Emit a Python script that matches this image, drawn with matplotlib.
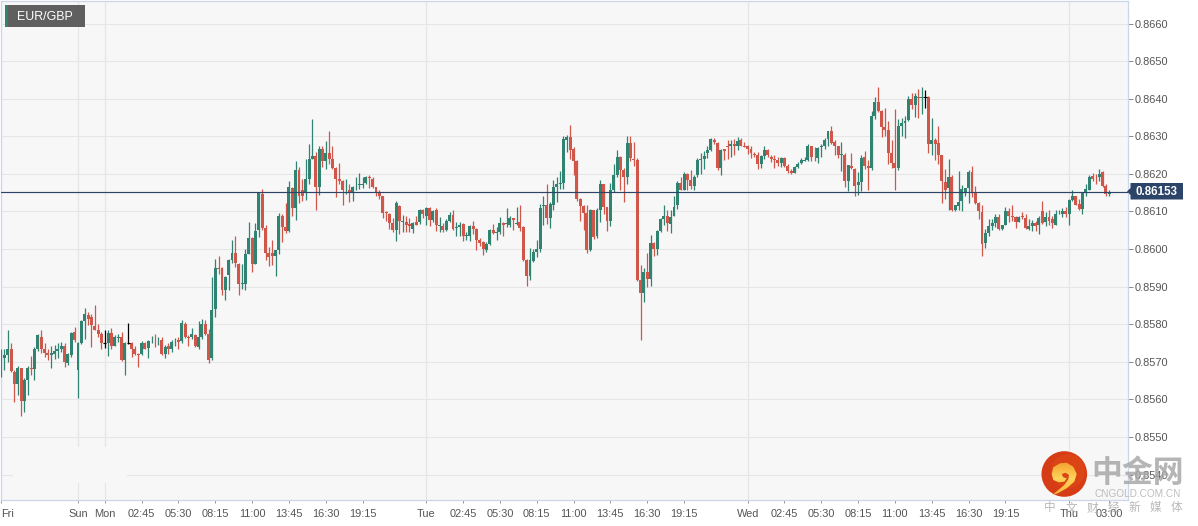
"""
EUR/GBP 15 minute candles with the last price marker and the site watermark.
Writes out.png.
"""

import matplotlib
matplotlib.use("Agg")
import matplotlib.pyplot as plt
from matplotlib.patches import Circle, Polygon, Rectangle
import numpy as np

W, H = 1198, 526

# prices in pips (0.8567.3 -> 8567.3)
opens = [
    8567.3, 8570.9, 8571.7, 8573.3, 8567.3, 8564, 8568.5, 8559.6, 8565.1, 8568.5,
    8568, 8573.3, 8576.6, 8573.5, 8572.4, 8571.7, 8572.2, 8572.9, 8573.5, 8574.2,
    8569.7, 8571.8, 8578, 8567.8, 8574.9, 8580.8, 8582.6, 8581.9, 8579.6, 8578.6,
    8577.3, 8575.1, 8574.9, 8577.8, 8574.3, 8576.4, 8576.6, 8570.4, 8575.1, 8574.9,
    8573.5, 8572.2, 8572, 8574.9, 8573.7, 8575.7, 8575.9, 8575.7, 8575.9, 8572,
    8574.2, 8573.4, 8575.7, 8575.9, 8575.5, 8580.2, 8576.6, 8576.5, 8577.1, 8574,
    8576.5, 8580, 8577.3, 8570.9, 8584, 8595, 8595, 8589, 8593, 8597,
    8599, 8596.1, 8590.6, 8590.6, 8598.8, 8603, 8596.1, 8605, 8614.7, 8605.7,
    8599, 8599, 8598.1, 8599.8, 8608.8, 8605.8, 8604.8, 8616.3, 8611, 8621,
    8615.6, 8614.9, 8618.7, 8624, 8624.7, 8616.6, 8626.6, 8623.5, 8625.6, 8624,
    8621.6, 8618.7, 8618, 8618, 8615.6, 8614.9, 8616.7, 8617, 8617.1, 8617.6,
    8619.3, 8618.7, 8616.5, 8614.9, 8614, 8609.8, 8609.4, 8606.9, 8605.1, 8611.4,
    8607.3, 8607.2, 8606.6, 8605.4, 8607.2, 8607.2, 8610.4, 8608.9, 8611, 8607.8,
    8610.3, 8606.1, 8606.1, 8605, 8607.4, 8609.1, 8605.7, 8606, 8606.7, 8603.6,
    8603.6, 8606.1, 8605.4, 8602.3, 8601.9, 8599.8, 8601.4, 8605.1, 8604.4, 8604.5,
    8606.9, 8606.6, 8606.3, 8608.2, 8606.8, 8607.2, 8605.8, 8597.2, 8592.9, 8596.8,
    8599.2, 8600.1, 8611.4, 8611.6, 8608.3, 8611.6, 8616.5, 8617.4, 8617.6, 8629,
    8629.9, 8626.6, 8623.5, 8613.4, 8611.4, 8609.6, 8599.8, 8610.3, 8603.4, 8610.3,
    8617.2, 8611.2, 8607.6, 8615.8, 8619.6, 8624.6, 8621.1, 8619.3, 8628.2, 8624,
    8623.7, 8591.9, 8588.4, 8593.9, 8592.1, 8601.7, 8599.9, 8604.8, 8608.1, 8608.8,
    8606.7, 8608.9, 8611.6, 8617.5, 8615.8, 8620, 8618.5, 8616.7, 8619.6, 8623.8,
    8624, 8625.5, 8626.4, 8629, 8628.2, 8621.5, 8626.6, 8627.4, 8627.3, 8628,
    8627.3, 8629, 8627.4, 8627.3, 8626.6, 8625.2, 8625.1, 8622.7, 8624.8, 8626.4,
    8624.4, 8623.9, 8623.8, 8622.9, 8624.2, 8622, 8620.9, 8620.3, 8621.9, 8622.8,
    8623.5, 8623.7, 8627.4, 8624.3, 8624.2, 8627.1, 8627.4, 8629.2, 8631.5, 8628.4,
    8627.3, 8625, 8625.1, 8618.2, 8622, 8621.3, 8617.1, 8617.8, 8624.6, 8622,
    8621.5, 8635.3, 8639, 8636.6, 8632.6, 8631.7, 8625.6, 8622.8, 8621.5, 8632.7,
    8633.5, 8634.3, 8639.9, 8638.3, 8640.5, 8640.3, 8640.5, 8640.5, 8628, 8629,
    8628.1, 8624.9, 8617.8, 8616.3, 8619.3, 8610.3, 8611.4, 8612.7, 8615, 8616.3,
    8620.4, 8614.9, 8612.3, 8609.8, 8601.6, 8604.2, 8606.1, 8607, 8608.5, 8605.4,
    8606.5, 8610.1, 8608.9, 8608.5, 8607.3, 8608.7, 8608.3, 8605.4, 8606.1, 8607,
    8606.3, 8610.1, 8607.2, 8608.5, 8608.1, 8606.5, 8609.5, 8609.4, 8610.1, 8609.4,
    8613.1, 8614.1, 8611.9, 8610.7, 8615.1, 8615.8, 8619.4, 8619, 8619.2, 8620.6, 8616.9, 8614.7,
]
highs = [
    8573.5, 8573.5, 8578.4, 8574.9, 8567.8, 8568.8, 8568.5, 8565.6, 8568.8, 8571.5,
    8574, 8577.3, 8578.6, 8574.9, 8573.5, 8574.3, 8574.4, 8574.9, 8575.3, 8574.9,
    8572.4, 8578, 8579.3, 8575.3, 8581.2, 8584.4, 8583.3, 8582.8, 8585.2, 8580.2,
    8578, 8578.6, 8578.4, 8579.1, 8577.1, 8577.5, 8578, 8575.3, 8580.4, 8575.3,
    8574.2, 8572.4, 8575.6, 8575.3, 8575.9, 8576.8, 8577.3, 8576.6, 8576.5, 8574.4,
    8574.9, 8575.8, 8576.4, 8576.5, 8581.1, 8580.6, 8577.1, 8579.1, 8577.5, 8580.9,
    8581.5, 8581.1, 8578.8, 8592.6, 8597.4, 8598.1, 8595.2, 8592.8, 8597.3, 8602.5,
    8603.5, 8596.3, 8596, 8600.1, 8607.2, 8603.2, 8607, 8615.1, 8616, 8606.3,
    8600.5, 8602.5, 8599.8, 8609.6, 8609.2, 8612.3, 8618, 8616.4, 8623.4, 8621.8,
    8618.7, 8624, 8628, 8634.6, 8625.8, 8627.5, 8627.3, 8628.7, 8631.5, 8627.3,
    8621.9, 8622.9, 8618.4, 8618.7, 8617.2, 8616.8, 8619.3, 8620.3, 8619.3, 8619.4,
    8619.6, 8619.3, 8616.6, 8615.6, 8614.2, 8610, 8609.5, 8608.3, 8612.9, 8611.6,
    8609.1, 8608.8, 8608.3, 8607.2, 8608.7, 8610.7, 8610.7, 8611.3, 8611.3, 8610.3,
    8611, 8608.5, 8606.9, 8608.1, 8609.8, 8610.3, 8607.2, 8607.2, 8606.9, 8604.5,
    8606.3, 8607.4, 8605.7, 8603, 8602.1, 8601.9, 8605.4, 8606.7, 8605.8, 8608.5,
    8607.2, 8611, 8608.7, 8608.3, 8611.3, 8611.8, 8606.1, 8597.3, 8600.4, 8600.1,
    8602.5, 8612, 8614.2, 8617.2, 8612.5, 8618.4, 8619.3, 8620.7, 8630.2, 8630.4,
    8633.1, 8627.1, 8623.6, 8613.5, 8611.8, 8611.6, 8610.7, 8610.5, 8611, 8618.4,
    8617.3, 8611.3, 8617.5, 8622.5, 8626.4, 8624.7, 8621.6, 8630.2, 8630.2, 8628.6,
    8624.2, 8595.8, 8595, 8598.9, 8603.8, 8601.9, 8605, 8608.3, 8611.8, 8610.5,
    8610.4, 8614.1, 8618, 8619.1, 8620.4, 8620.2, 8621.1, 8619.8, 8624.2, 8625.5,
    8626, 8627.5, 8629.6, 8629.6, 8628.6, 8626.6, 8626.7, 8628.9, 8629, 8629.3,
    8629.9, 8629.6, 8628.6, 8627.8, 8627.3, 8625.8, 8625.9, 8624.9, 8627.3, 8626.6,
    8625.1, 8625.1, 8624.6, 8624.4, 8624.6, 8622.5, 8621.3, 8622.2, 8623.1, 8624.2,
    8624.4, 8628, 8627.5, 8627.1, 8627.1, 8628, 8629.6, 8631.5, 8632.8, 8628.9,
    8627.5, 8628.6, 8625.5, 8622.4, 8625.6, 8621.6, 8620.4, 8625.1, 8626.2, 8623.7,
    8636.6, 8640.5, 8643.2, 8637, 8637.5, 8634.2, 8628.9, 8637.3, 8634.6, 8634.8,
    8635.5, 8640.8, 8641.5, 8641.4, 8642.6, 8643.2, 8642.3, 8640.6, 8634.9, 8629.6,
    8632.8, 8624.9, 8621.3, 8624, 8619.6, 8611.8, 8620.9, 8617.1, 8616.3, 8621.1,
    8622, 8616.7, 8612.5, 8611.6, 8605.4, 8607.9, 8608.1, 8609.2, 8609.2, 8606.5,
    8611.2, 8611, 8611.6, 8608.9, 8608.9, 8609.8, 8609.2, 8608.1, 8607.8, 8607.6,
    8608.7, 8612.7, 8609.8, 8610.3, 8608.7, 8610.4, 8610.4, 8611, 8611.2, 8613.4,
    8615.8, 8614.2, 8613.4, 8615.1, 8617.3, 8619.6, 8620.3, 8620, 8621.3, 8620.9, 8617.3, 8615.8,
]
lows = [
    8566, 8567.8, 8570, 8567.3, 8559.4, 8561.2, 8555.7, 8556.7, 8561.2, 8566.5,
    8565.3, 8572.9, 8572.4, 8571.3, 8570.6, 8568.4, 8570.7, 8570.9, 8572.7, 8568.7,
    8569.1, 8571.3, 8575.3, 8560.4, 8574.7, 8576.2, 8579.7, 8574, 8578.4, 8576.6,
    8573.3, 8573.8, 8571.5, 8573.5, 8574.2, 8575.3, 8570.2, 8566.6, 8574.7, 8571.3,
    8571.8, 8568.7, 8571.8, 8573.4, 8570.9, 8574.9, 8574, 8574.4, 8571.8, 8571.1,
    8572, 8572.7, 8574.2, 8573.3, 8575.1, 8576.4, 8574.2, 8576, 8574, 8573.4,
    8576.2, 8577.1, 8569.7, 8570.6, 8582, 8593.5, 8587.9, 8586.5, 8589, 8596.4,
    8595.2, 8587.9, 8589.5, 8589.2, 8598.7, 8593.9, 8596, 8603.2, 8605.2, 8597,
    8595.5, 8595.7, 8592.8, 8598.6, 8601.9, 8604.2, 8604.5, 8608.8, 8607.8, 8612.3,
    8612.7, 8613.1, 8617.3, 8623.9, 8610.5, 8614.4, 8621.8, 8621.3, 8622.7, 8621.3,
    8613.8, 8617.2, 8611.8, 8614.7, 8612.5, 8612.7, 8615.6, 8616, 8616.2, 8617.3,
    8616.3, 8616.2, 8614.2, 8613.4, 8608.2, 8607.4, 8605.4, 8604.5, 8602.1, 8604.1,
    8604.5, 8604.5, 8604.5, 8604.2, 8606.3, 8606.7, 8608.3, 8606.3, 8606.1, 8607.2,
    8604.8, 8604.5, 8604.5, 8604.8, 8607.2, 8605.1, 8603.4, 8603.6, 8602.1, 8602.5,
    8602.1, 8603.9, 8599.8, 8600.8, 8598.5, 8599.2, 8601, 8604.1, 8602.3, 8604.1,
    8603.4, 8605.8, 8605.8, 8605.2, 8606.5, 8604.8, 8596.8, 8590.1, 8591.9, 8596.5,
    8597.9, 8599.2, 8606.3, 8606.7, 8605.6, 8610.4, 8612.5, 8616, 8616, 8625.8,
    8624, 8619.8, 8612.9, 8607.4, 8605.2, 8598.9, 8599.5, 8602.6, 8603, 8607.2,
    8609.2, 8604.8, 8606.1, 8615.1, 8619.3, 8615.6, 8612.5, 8617.3, 8623.5, 8622.2,
    8591.4, 8575.9, 8585.9, 8589.9, 8590.1, 8598.1, 8598.5, 8604.5, 8606.3, 8604.8,
    8604.2, 8608.7, 8610.7, 8615.6, 8615.6, 8615.8, 8616, 8615.8, 8619.3, 8620,
    8621.3, 8624.2, 8626.2, 8628, 8621.1, 8619.7, 8623.7, 8624, 8624.6, 8625.1,
    8626.4, 8627.3, 8627.1, 8625.3, 8624.2, 8624.6, 8621.2, 8621.6, 8624, 8624.4,
    8623.1, 8621.6, 8622.2, 8621.8, 8621.9, 8620.3, 8620, 8620.2, 8621.6, 8622.7,
    8623.3, 8623.5, 8623.5, 8623.5, 8622.8, 8624.6, 8626.6, 8627.5, 8628, 8624.9,
    8624.2, 8620.9, 8616.5, 8615.4, 8621.3, 8614.1, 8614.5, 8615.4, 8621.3, 8615.8,
    8621.1, 8634.6, 8636.4, 8629.9, 8630.2, 8622.7, 8621.6, 8615.8, 8621.1, 8630.2,
    8629.6, 8634, 8637.3, 8635.2, 8634.8, 8635.9, 8637.5, 8625.5, 8624.9, 8623.7,
    8622.7, 8612.3, 8613.4, 8610.3, 8610.1, 8610.1, 8610.3, 8610.1, 8614.1, 8612.2,
    8613.8, 8612, 8608.1, 8598.1, 8600.4, 8603.6, 8605, 8605.8, 8605, 8605.2,
    8606.3, 8607.2, 8607.6, 8605.7, 8607.2, 8608.1, 8605.4, 8605.1, 8604.8, 8604.8,
    8604.1, 8606.7, 8606.1, 8606.5, 8605.7, 8606.3, 8609.2, 8608.5, 8608.5, 8606.5,
    8612.9, 8611.6, 8610.4, 8609.2, 8614.2, 8615.6, 8618.2, 8617.3, 8618, 8616.6, 8614.2, 8614.2,
]
closes = [
    8570.9, 8571.7, 8573.3, 8567.5, 8564, 8568.5, 8559.6, 8565.1, 8568.5, 8568,
    8573.3, 8577.1, 8573.5, 8572.4, 8571.7, 8572.4, 8572.9, 8573.5, 8574.2, 8570,
    8572, 8577.8, 8575.8, 8575.1, 8580.8, 8582.8, 8581.5, 8579.7, 8578.6, 8577.3,
    8575.1, 8575.1, 8577.8, 8574.2, 8576.5, 8576.6, 8570.6, 8575.1, 8575.1, 8573.5,
    8572, 8571.9, 8574.9, 8573.5, 8575.6, 8575.9, 8575.7, 8575.9, 8572, 8574,
    8573.4, 8575.3, 8575.9, 8575.2, 8580.4, 8576.6, 8576.4, 8577.5, 8574.2, 8576.5,
    8580, 8577.3, 8570.4, 8583.9, 8595, 8594.7, 8589, 8592.6, 8597, 8599,
    8596.3, 8590.6, 8591, 8598.8, 8603, 8596.1, 8604.8, 8615, 8605.7, 8599,
    8598, 8598.1, 8599.8, 8608.8, 8605.8, 8604.8, 8616.5, 8611, 8621, 8614.2,
    8614, 8618.7, 8624, 8624.7, 8616.5, 8626.6, 8623.5, 8625.6, 8624, 8621.6,
    8618.7, 8618, 8615.6, 8618.2, 8614.9, 8616.5, 8616.9, 8617.2, 8617.3, 8619.1,
    8618.8, 8616.5, 8615, 8614, 8609.6, 8609.6, 8606.9, 8605.1, 8612.2, 8607.6,
    8607.5, 8606.5, 8606.1, 8606.9, 8606.5, 8610.3, 8609.2, 8611, 8607.8, 8610.1,
    8606.3, 8606.3, 8605.2, 8607.4, 8609.1, 8605.4, 8606, 8606.3, 8603.6, 8603.8,
    8606.1, 8605.4, 8602.3, 8601.7, 8600.1, 8601.4, 8605.1, 8604.3, 8604.6, 8606.9,
    8606.3, 8607, 8608.3, 8607.8, 8607, 8605.7, 8597, 8592.8, 8597.2, 8599.2,
    8600.1, 8611, 8611.6, 8608.3, 8611.9, 8616.5, 8617.3, 8617.6, 8629.3, 8629.9,
    8626.4, 8623.5, 8613.4, 8611.4, 8609.6, 8599.8, 8610.3, 8603.2, 8610.3, 8617.2,
    8611.2, 8607.6, 8615.8, 8619.6, 8624.6, 8621.1, 8619.3, 8628.2, 8624.2, 8623.6,
    8591.7, 8588.4, 8593.9, 8592.1, 8601.7, 8599.9, 8604.8, 8608.1, 8608.8, 8606.9,
    8608.5, 8611.2, 8617.6, 8615.8, 8620, 8618.4, 8616.7, 8619.3, 8623.7, 8624,
    8624.7, 8626.4, 8629.3, 8628.4, 8621.6, 8626.4, 8626.2, 8627.1, 8628, 8627.3,
    8628.7, 8627.4, 8627.2, 8626.6, 8625.6, 8625, 8622.5, 8624.7, 8626.4, 8624.9,
    8624, 8623.7, 8622.9, 8624.2, 8622, 8620.7, 8620.3, 8621.8, 8622.7, 8623.7,
    8623.8, 8627.4, 8624.4, 8624.1, 8626.8, 8627.4, 8629, 8631.3, 8628.2, 8627.3,
    8624.9, 8625.2, 8618.1, 8622.4, 8621.6, 8616.9, 8617.8, 8624.2, 8622.2, 8621.6,
    8635.3, 8639, 8636.6, 8632.6, 8631.7, 8625.6, 8622.9, 8621.6, 8632.7, 8633.5,
    8634.2, 8639.9, 8638.3, 8640.8, 8640.3, 8640.5, 8640.5, 8628, 8629, 8628,
    8624.9, 8618, 8615.8, 8619.1, 8610.3, 8611.6, 8612.5, 8616, 8616.3, 8620.6,
    8614.9, 8612.3, 8610, 8601.4, 8604.2, 8606.1, 8607, 8608.5, 8605.4, 8606.5,
    8610.1, 8608.9, 8608.6, 8607.3, 8608.5, 8608.5, 8605.7, 8606.1, 8607, 8606.1,
    8608.3, 8607, 8608.5, 8607.6, 8607, 8609.4, 8609.7, 8610.1, 8609.4, 8613.1,
    8614.1, 8611.8, 8610.7, 8614.9, 8616, 8619.3, 8618.7, 8618.8, 8619.9, 8616.7, 8614.7, 8615.3,
]
# the three candles the feed drew as black dashes
black_candles = [31, 38, 276]

tick_positions = [0, 23, 31, 42, 53, 64, 75, 86, 97, 108, 127, 138, 149, 160, 171, 182,
                  193, 204, 223, 234, 245, 256, 267, 278, 289, 300, 319, 331]
tick_labels = ["Fri", "Sun", "Mon", "02:45", "05:30", "08:15", "11:00", "13:45", "16:30", "19:15",
               "Tue", "02:45", "05:30", "08:15", "11:00", "13:45", "16:30", "19:15",
               "Wed", "02:45", "05:30", "08:15", "11:00", "13:45", "16:30", "19:15",
               "Thu", "03:00"]
day_starts = [23, 31, 127, 223, 319]
y_ticks = [0.8540, 0.8550, 0.8560, 0.8570, 0.8580, 0.8590, 0.8600, 0.8610,
           0.8620, 0.8630, 0.8640, 0.8650, 0.8660]
last_price = 0.86153

GREEN = "#2f8370"
RED = "#d0564a"
NAVY = "#2c4468"
GRID = "#e6e6e6"
FRAME = "#ccd6eb"
BG = "#f7f7f7"
TEXT = "#555555"

plt.rcParams["font.family"] = ["Liberation Sans", "DejaVu Sans"]

fig = plt.figure(figsize=(W / 100, H / 100), dpi=100, facecolor="white")
# plot frame runs from pixel (1, 0.5) to (1127.5, 500)
ax = fig.add_axes([1 / W, (H - 500) / H, 1126.5 / W, 499.5 / H], facecolor=BG)

o, h, l, c = [np.array(v) / 10000 for v in (opens, highs, lows, closes)]
idx = np.arange(len(o))
up = c >= o
colors = np.where(up, GREEN, RED).tolist()
for i in black_candles:
    colors[i] = "black"

ax.vlines(idx, l, h, colors=colors, linewidth=0.9, zorder=3)
ax.bar(idx, np.abs(c - o), bottom=np.minimum(o, c), width=0.88, color=colors,
       linewidth=0, zorder=3)
# black dashes get a short stroke, a bar would vanish at zero height
ax.hlines(c[black_candles], idx[black_candles] - 0.5, idx[black_candles] + 0.5,
          colors="black", linewidth=0.8, zorder=3)

ax.set_xlim(0.477, 336.45)
ax.set_ylim(0.853326, 0.866612)

ax.yaxis.tick_right()
ax.set_yticks(y_ticks)
ax.set_yticklabels([f"{v:.4f}" for v in y_ticks], fontsize=7.9, color=TEXT)
ax.tick_params(axis="y", length=3.6, width=0.7, color="#8a8a8a", pad=1.6)
ax.set_xticks(tick_positions)
ax.set_xticklabels(tick_labels, fontsize=7.9, color=TEXT)
ax.tick_params(axis="x", length=2.2, width=0.7, color="#999999", pad=4.5)
ax.get_xticklabels()[0].set_ha("left")

ax.grid(axis="y", color=GRID, linewidth=0.8, zorder=1)
for day in day_starts:
    ax.axvline(day, color=GRID, linewidth=0.9, zorder=1)
ax.axhline(last_price, color=NAVY, linewidth=0.85, zorder=4)
for spine in ax.spines.values():
    spine.set_color(FRAME)
    spine.set_linewidth(0.9)

# everything else sits on a pixel canvas over the chart
over = fig.add_axes([0, 0, 1, 1], facecolor="none")
over.set_axis_off()

# wiped out patch at the lower left of the plot
over.add_patch(Rectangle((13, 447), 114, 36, color=BG, linewidth=0))

# symbol tag
over.add_patch(Rectangle((5, 5), 80, 22, color="#5f5f5f", linewidth=0))
over.add_patch(Rectangle((5, 5), 3, 22, color=GREEN, linewidth=0))
over.text(44.5, 16.5, "EUR/GBP", color="white", fontsize=8.9, ha="center", va="center")

# last price flag
over.add_patch(Polygon([(1127, 191.5), (1130.5, 188), (1130.5, 183), (1183, 183), (1183, 199.5),
                        (1130.5, 199.5), (1130.5, 195)], closed=True, color=NAVY, linewidth=0))
over.text(1156.8, 191.6, f"{last_price:.5f}", color="white", fontsize=8.3, fontweight="bold",
          ha="center", va="center")

# logo
disc = Circle((1064.3, 474), 22.8, color="#d63c15", linewidth=0, zorder=5)
over.add_patch(disc)
over.add_patch(Circle((1068, 471), 17, color="#e04a16", alpha=0.6, linewidth=0, zorder=5))
cloud = Polygon([(1051.7, 474), (1053.3, 467.3), (1060, 463.3), (1066.7, 462.7), (1073.3, 466.7),
                 (1076.7, 474), (1074.3, 481.7), (1066.7, 488.3), (1057.7, 493.3), (1052.3, 495),
                 (1058.3, 490), (1064.3, 485), (1068.3, 479.3), (1069, 475), (1065.7, 472.7),
                 (1061.7, 474), (1063.3, 477.3), (1066.7, 478.3), (1064.3, 481.7), (1059, 482.3),
                 (1053.3, 480)], closed=True, linewidth=0, facecolor="none", zorder=6)
over.add_patch(cloud)
grad = np.linspace(0, 1, 64).reshape(-1, 1)
img = over.imshow(grad, extent=(1050, 1078, 495, 462), cmap=matplotlib.colors.LinearSegmentedColormap.from_list(
    "logo", ["#f4a02e", "#ffd45c", "#fbb43a"]), aspect="auto", zorder=6)
img.set_clip_path(cloud)

# watermark
over.text(1138, 473, "中金网", family=["Noto Sans CJK SC", "DejaVu Sans"], fontsize=22.2, fontweight="bold",
          color="#a8a8a8", alpha=0.85, ha="center", va="center", zorder=6)
over.text(1137.8, 494, "CNGOLD.COM.CN", fontsize=7.2, color="#bdbdbd", ha="center", va="center", zorder=6)
for k, ch in enumerate("中文财经新媒体"):
    over.text(1050 + k * 21, 508, ch, family=["Noto Sans CJK SC", "DejaVu Sans"], fontsize=8.4,
              color="#a6a6a6", alpha=0.8, ha="center", va="center", zorder=6)

over.set_xlim(0, W)
over.set_ylim(H, 0)

fig.savefig("out.png", dpi=100, facecolor="white")
plt.close(fig)
